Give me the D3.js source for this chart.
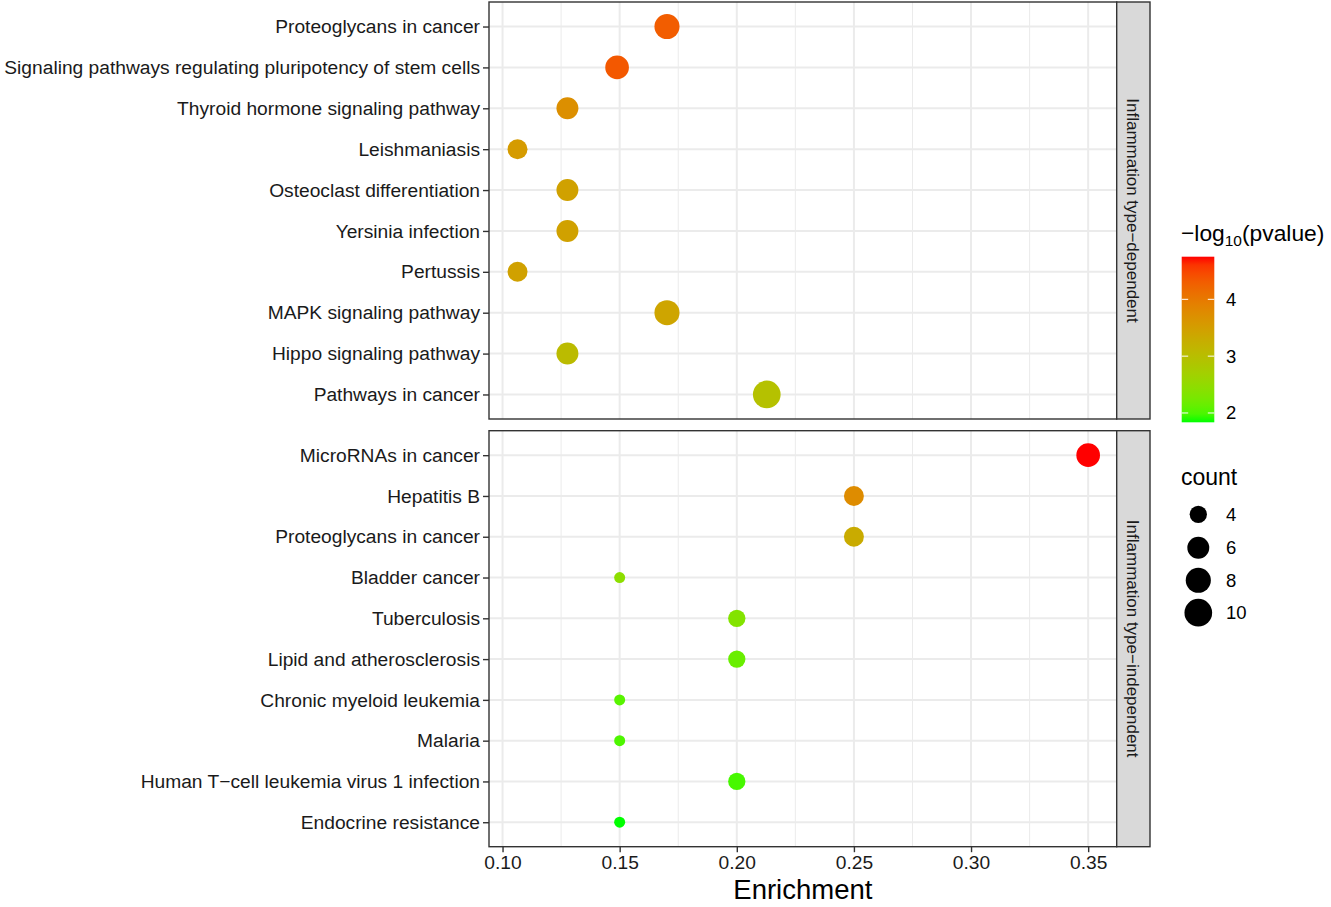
<!DOCTYPE html>
<html>
<head>
<meta charset="utf-8">
<script src="https://cdn.jsdelivr.net/npm/d3@7"></script>
<style>
  body { margin: 0; background: #fff; }
  text { font-family: "Liberation Sans", Arial, sans-serif; }
</style>
</head>
<body>
<script>
"use strict";

// panel 1 : Inflammation type-dependent (top to bottom)
const depTerms = ["Proteoglycans in cancer", "Signaling pathways regulating pluripotency of stem cells",
  "Thyroid hormone signaling pathway", "Leishmaniasis", "Osteoclast differentiation",
  "Yersinia infection", "Pertussis", "MAPK signaling pathway", "Hippo signaling pathway",
  "Pathways in cancer"];
const depEnrich = [0.1702, 0.1489, 0.1277, 0.1064, 0.1277, 0.1277, 0.1064, 0.1702, 0.1277, 0.2128];
const depCount = [8, 7, 6, 5, 6, 6, 5, 8, 6, 10];
const depLogP = [4.3, 4.35, 3.72, 3.55, 3.45, 3.45, 3.45, 3.4, 3.05, 2.95];

// panel 2 : Inflammation type-independent
const indTerms = ["MicroRNAs in cancer", "Hepatitis B", "Proteoglycans in cancer", "Bladder cancer",
  "Tuberculosis", "Lipid and atherosclerosis", "Chronic myeloid leukemia", "Malaria",
  "Human T\u2212cell leukemia virus 1 infection", "Endocrine resistance"];
const indEnrich = [0.35, 0.25, 0.25, 0.15, 0.20, 0.20, 0.15, 0.15, 0.20, 0.15];
const indCount = [7, 5, 5, 3, 4, 4, 3, 3, 4, 3];
const indLogP = [4.75, 3.75, 3.3, 2.45, 2.35, 2.15, 2.05, 2.0, 1.97, 1.836];

const panelNames = ["Inflammation type\u2212dependent", "Inflammation type\u2212independent"];
const xTicks = [0.10, 0.15, 0.20, 0.25, 0.30, 0.35];
const colorTicks = [2, 3, 4];
const sizeTicks = [4, 6, 8, 10];

const W = 1331, H = 907;
const left = 489, right = 1116.7, stripW = 33.3;
const panelsY = [[2, 419], [430.7, 846.7]];
const tickFont = 19.2;

const svg = d3.select("body").append("svg").attr("width", W).attr("height", H);

const allEnrich = depEnrich.concat(indEnrich);
const allCount = depCount.concat(indCount);
const allLogP = depLogP.concat(indLogP);

// ggplot style 5% expansion
let ex = d3.extent(allEnrich);
let pad = (ex[1] - ex[0]) * 0.05;
const x = d3.scaleLinear().domain([ex[0] - pad, ex[1] + pad]).range([left, right]);

const lp = d3.extent(allLogP);
const color = d3.scaleLinear().domain(lp).range(["#00FF00", "#FF0000"]).interpolate(d3.interpolateLab);

const cnt = d3.extent(allCount);
const sizeT = d3.scaleLinear().domain(cnt).range([0, 1]);
const rad = d3.scaleLinear().domain([0, 1]).range([5.5, 13.85]);
const radius = c => rad(Math.sqrt(sizeT(c)));

const panels = [
  { name: panelNames[0], terms: depTerms, enrich: depEnrich, count: depCount, logp: depLogP },
  { name: panelNames[1], terms: indTerms, enrich: indEnrich, count: indCount, logp: indLogP }
];

const minor = d3.range(xTicks.length - 1).map(i => (xTicks[i] + xTicks[i + 1]) / 2);

panels.forEach(function (p, k) {
  const top = panelsY[k][0], bot = panelsY[k][1];
  const y = d3.scalePoint().domain(p.terms).range([top, bot]).padding(0.6);
  const g = svg.append("g");

  // grid
  g.selectAll(".minor").data(minor).enter().append("line")
    .attr("x1", d => x(d)).attr("x2", d => x(d)).attr("y1", top).attr("y2", bot)
    .attr("stroke", "#EBEBEB").attr("stroke-width", 1);
  g.selectAll(".majx").data(xTicks).enter().append("line")
    .attr("x1", d => x(d)).attr("x2", d => x(d)).attr("y1", top).attr("y2", bot)
    .attr("stroke", "#EBEBEB").attr("stroke-width", 2);
  g.selectAll(".majy").data(p.terms).enter().append("line")
    .attr("x1", left).attr("x2", right).attr("y1", d => y(d)).attr("y2", d => y(d))
    .attr("stroke", "#EBEBEB").attr("stroke-width", 2);

  // points
  const rows = p.terms.map((t, i) => ({ term: t, e: p.enrich[i], c: p.count[i], v: p.logp[i] }));
  g.selectAll("circle").data(rows).enter().append("circle")
    .attr("cx", d => x(d.e)).attr("cy", d => y(d.term))
    .attr("r", d => radius(d.c))
    .attr("fill", d => color(d.v));

  // border
  g.append("rect").attr("x", left).attr("y", top).attr("width", right - left).attr("height", bot - top)
    .attr("fill", "none").attr("stroke", "#333333").attr("stroke-width", 1.4);

  // strip
  g.append("rect").attr("x", right).attr("y", top).attr("width", stripW).attr("height", bot - top)
    .attr("fill", "#D9D9D9").attr("stroke", "#333333").attr("stroke-width", 1.4);
  g.append("text")
    .attr("transform", "translate(" + (right + stripW / 2) + "," + ((top + bot) / 2) + ") rotate(90)")
    .attr("text-anchor", "middle").attr("dy", "0.35em")
    .attr("font-size", 17).attr("fill", "#1A1A1A").text(p.name);

  // y axis
  const yAxis = d3.axisLeft(y).tickSize(6).tickPadding(3);
  const ya = g.append("g").attr("transform", "translate(" + left + ",0)").call(yAxis);
  ya.select(".domain").remove();
  ya.selectAll("line").attr("stroke", "#333333").attr("stroke-width", 1.4);
  ya.selectAll("text").attr("font-size", tickFont).attr("fill", "#1A1A1A")
    .style("font-family", "'Liberation Sans', Arial, sans-serif");

  if (k === 1) {
    const xAxis = d3.axisBottom(x).tickValues(xTicks).tickFormat(d3.format(".2f")).tickSize(5.5).tickPadding(3);
    const xa = g.append("g").attr("transform", "translate(0," + bot + ")").call(xAxis);
    xa.select(".domain").remove();
    xa.selectAll("line").attr("stroke", "#333333").attr("stroke-width", 1.4);
    xa.selectAll("text").attr("font-size", tickFont).attr("fill", "#1A1A1A")
      .style("font-family", "'Liberation Sans', Arial, sans-serif");
  }
});

// x title
svg.append("text").attr("x", (left + right) / 2).attr("y", 899)
  .attr("text-anchor", "middle").attr("font-size", 27.5).attr("fill", "#000").text("Enrichment");

// colour legend
const barX = 1181.7, barW = 32.6, barTop = 256.7, barBot = 422.3;
const title = svg.append("text").attr("x", 1181).attr("y", 241).attr("font-size", 22.8).attr("fill", "#000");
title.append("tspan").text("\u2212log");
title.append("tspan").attr("font-size", 15.5).attr("dy", 5).text("10");
title.append("tspan").attr("dy", -5).text("(pvalue)");

const defs = svg.append("defs");
const grad = defs.append("linearGradient").attr("id", "cgrad")
  .attr("x1", 0).attr("x2", 0).attr("y1", 1).attr("y2", 0);
d3.range(0, 1.0001, 0.05).forEach(function (t) {
  grad.append("stop").attr("offset", t).attr("stop-color", color(lp[0] + t * (lp[1] - lp[0])));
});
svg.append("rect").attr("x", barX).attr("y", barTop).attr("width", barW).attr("height", barBot - barTop)
  .attr("fill", "url(#cgrad)");
const cy = d3.scaleLinear().domain(lp).range([barBot, barTop]);
colorTicks.forEach(function (v) {
  svg.append("line").attr("x1", barX).attr("x2", barX + 6.5).attr("y1", cy(v)).attr("y2", cy(v))
    .attr("stroke", "#fff").attr("stroke-width", 1);
  svg.append("line").attr("x1", barX + barW - 6.5).attr("x2", barX + barW).attr("y1", cy(v)).attr("y2", cy(v))
    .attr("stroke", "#fff").attr("stroke-width", 1);
  svg.append("text").attr("x", 1226).attr("y", cy(v)).attr("dy", "0.35em")
    .attr("font-size", 18.5).attr("fill", "#000").text(v);
});

// size legend
svg.append("text").attr("x", 1181).attr("y", 485).attr("font-size", 23).attr("fill", "#000").text("count");
const sy = [514.3, 547.7, 580.3, 612.7];
sizeTicks.forEach(function (c, i) {
  svg.append("circle").attr("cx", 1198.3).attr("cy", sy[i]).attr("r", radius(c)).attr("fill", "#000");
  svg.append("text").attr("x", 1226).attr("y", sy[i]).attr("dy", "0.35em")
    .attr("font-size", 18.5).attr("fill", "#000").text(c);
});
</script>
</body>
</html>
